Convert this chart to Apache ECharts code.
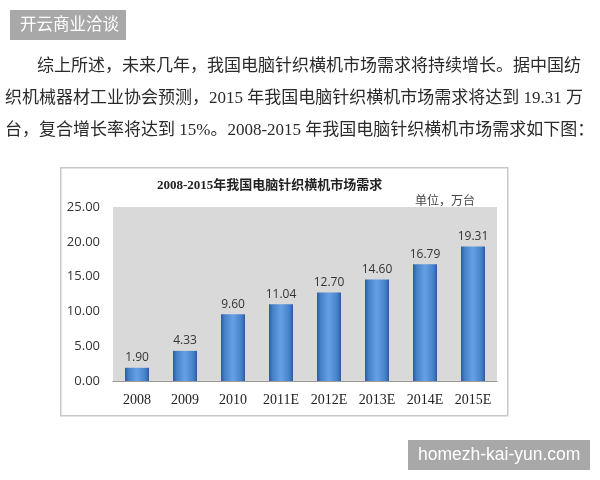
<!DOCTYPE html>
<html><head><meta charset="utf-8">
<script src="https://cdn.jsdelivr.net/npm/echarts@6/dist/echarts.min.js"></script>
<style>html,body{margin:0;padding:0;background:#fff}#c{width:600px;height:480px}</style>
</head><body><div id="c"></div>
<script>
const categories = ['2008','2009','2010','2011E','2012E','2013E','2014E','2015E'];
const demand = [1.90, 4.33, 9.60, 11.04, 12.70, 14.60, 16.79, 19.31];
const yTicks = [0, 5, 10, 15, 20, 25];
const chartTitle = '2008-2015年我国电脑针织横机市场需求';
const unitText = '单位，万台';
const paragraph = [
  '综上所述，未来几年，我国电脑针织横机市场需求将持续增长。据中国纺',
  '织机械器材工业协会预测，2015 年我国电脑针织横机市场需求将达到 19.31 万',
  '台，复合增长率将达到 15%。2008-2015 年我国电脑针织横机市场需求如下图：'
];
const watermarkTop = '开云商业洽谈';
const watermarkBottom = 'homezh-kai-yun.com';

const cjk = '"Noto Sans CJK SC", sans-serif';
const para = '17px "Liberation Serif", "Noto Sans CJK SC", serif';
const chart = echarts.init(document.getElementById('c'));
const barGrad = new echarts.graphic.LinearGradient(0, 0, 1, 0, [
  {offset: 0, color: '#2c5c9c'},
  {offset: 0.15, color: '#4680c8'},
  {offset: 0.5, color: '#66a0e4'},
  {offset: 0.85, color: '#4680c8'},
  {offset: 1, color: '#2c5c9c'}
]);
chart.setOption({
  backgroundColor: '#fff',
  animation: false,
  graphic: [
    {type: 'rect', left: 10, top: 10, shape: {width: 116, height: 30}, style: {fill: '#a8a8a8'}},
    {type: 'text', left: 20, top: 15, style: {text: watermarkTop, fill: '#fff', font: '16.5px ' + cjk}},
    {type: 'text', left: 37, top: 58, style: {text: paragraph[0], fill: '#2a2a2a', font: para}},
    {type: 'text', left: 5, top: 90, style: {text: paragraph[1], fill: '#2a2a2a', font: para}},
    {type: 'text', left: 5, top: 122, style: {text: paragraph[2], fill: '#2a2a2a', font: para}},
    {type: 'rect', left: 60, top: 167, z: -10, shape: {width: 447, height: 248}, style: {fill: '#fff', stroke: '#c8c8c8', lineWidth: 1.5}},
    {type: 'text', left: 157, top: 179, style: {text: chartTitle, fill: '#222', font: 'bold 13px "Liberation Serif", ' + cjk}},
    {type: 'text', left: 415, top: 194, style: {text: unitText, fill: '#444', font: '12px ' + cjk}},
    {type: 'rect', left: 408, top: 440, shape: {width: 182, height: 30}, style: {fill: '#a8a8a8'}},
    {type: 'text', left: 418, top: 446, style: {text: watermarkBottom, fill: '#fff', font: '17.5px "Liberation Sans", sans-serif'}}
  ],
  grid: {left: 113, right: 103, top: 207, bottom: 99, show: true, backgroundColor: '#d9d9d9', borderWidth: 0},
  xAxis: {
    type: 'category', data: categories,
    axisLine: {lineStyle: {color: '#9a9a9a'}}, axisTick: {show: false},
    axisLabel: {margin: 12, color: '#222', fontSize: 14, fontFamily: '"Liberation Serif", serif'}
  },
  yAxis: {
    type: 'value', min: yTicks[0], max: yTicks[yTicks.length - 1], interval: 5,
    splitLine: {show: false}, axisLine: {show: false}, axisTick: {show: false},
    axisLabel: {margin: 13, color: '#333', fontSize: 13, fontFamily: '"Open Sans", sans-serif', formatter: v => v.toFixed(2)}
  },
  series: [{
    type: 'bar', data: demand, barWidth: 24,
    itemStyle: {color: barGrad},
    label: {show: true, position: 'top', distance: 4, color: '#333', fontSize: 12, fontFamily: '"Open Sans", sans-serif', formatter: p => p.value.toFixed(2)}
  }]
});
</script></body></html>
